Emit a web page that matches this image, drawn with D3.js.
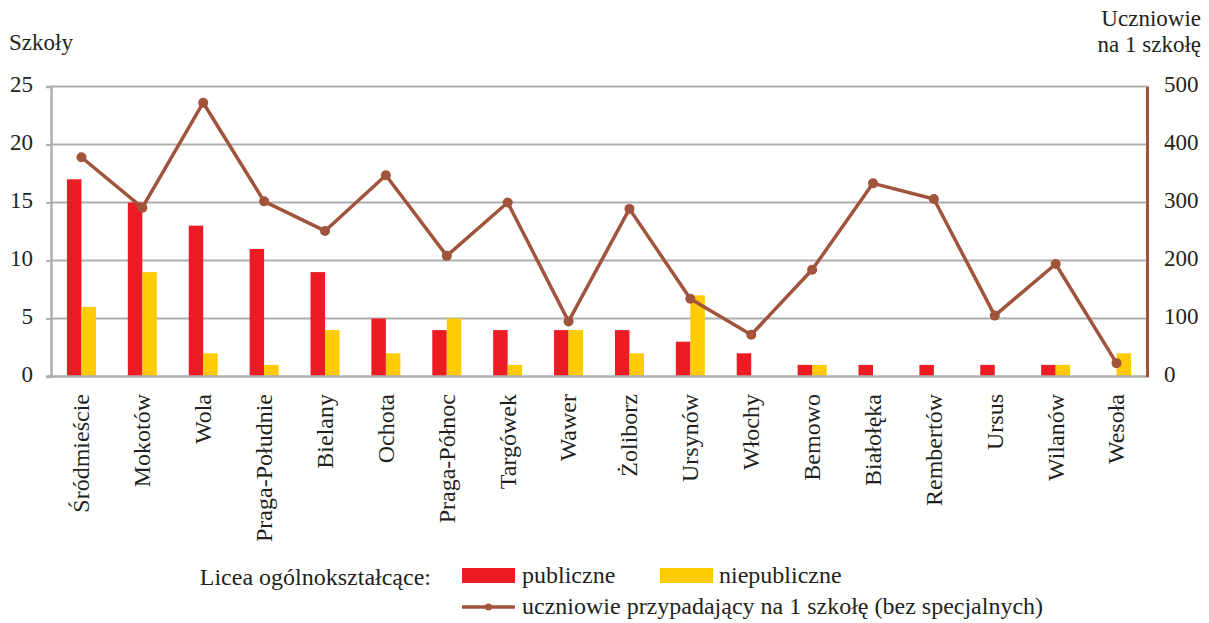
<!DOCTYPE html>
<html><head><meta charset="utf-8">
<script src="https://cdn.jsdelivr.net/npm/d3@7"></script>
<style>body{margin:0;background:#fff}svg{display:block}text{font-family:"Liberation Serif","Times New Roman",serif;fill:#231f20}</style>
</head><body><svg id="c" width="1209" height="623"></svg>
<script>
const districts = ["Śródmieście","Mokotów","Wola","Praga-Południe","Bielany","Ochota","Praga-Północ","Targówek","Wawer","Żoliborz","Ursynów","Włochy","Bemowo","Białołęka","Rembertów","Ursus","Wilanów","Wesoła"];
const publicSchools = [17,15,13,11,9,5,4,4,4,4,3,2,1,1,1,1,1,0];
const privateSchools = [6,9,2,1,4,2,5,1,4,2,7,0,1,0,0,0,1,2];
const studentsPerSchool = [378,291,472,302,251,347,208,300,95,289,134,72,184,333,306,105,194,23];
const leftTicks = [0,5,10,15,20,25];
const rightTicks = [0,100,200,300,400,500];

const svg = d3.select("#c");
const L = 51, R = 1147, T = 86.5, B = 376.5;
const FS = 23, FL = 24;
const x = d3.scaleBand().domain(districts).range([L, R]);
const yL = d3.scaleLinear().domain([0,25]).range([B, T]);
const yR = d3.scaleLinear().domain([0,500]).range([B, T]);
const bw = 14.5;
const grid = "#aeaeb0", lineCol = "#a0543c";

svg.append("g").selectAll("line").data(leftTicks.slice(1)).join("line")
  .attr("x1", L).attr("x2", R + 2).attr("y1", d => yL(d)).attr("y2", d => yL(d))
  .attr("stroke", grid).attr("stroke-width", 2);

const ga = svg.append("g").attr("transform", `translate(${L},0)`)
  .call(d3.axisLeft(yL).tickValues(leftTicks).tickSize(5).tickPadding(13));
ga.select(".domain").attr("stroke", grid).attr("stroke-width", 2.5);
ga.selectAll(".tick line").attr("stroke", grid).attr("stroke-width", 2);
ga.selectAll(".tick text").attr("font-size", FS).attr("dy", "0.2em");

const g = svg.append("g");
g.selectAll(".pub").data(districts).join("rect")
  .attr("x", d => x(d) + x.bandwidth()/2 - bw)
  .attr("y", (d,i) => yL(publicSchools[i])).attr("width", bw)
  .attr("height", (d,i) => B - yL(publicSchools[i])).attr("fill", "#ed1c24");
g.selectAll(".prv").data(districts).join("rect")
  .attr("x", d => x(d) + x.bandwidth()/2)
  .attr("y", (d,i) => yL(privateSchools[i])).attr("width", bw)
  .attr("height", (d,i) => B - yL(privateSchools[i])).attr("fill", "#ffcb05");

svg.append("line").attr("x1", L - 5).attr("x2", R + 2).attr("y1", B).attr("y2", B)
  .attr("stroke", grid).attr("stroke-width", 2.5);

const gr = svg.append("g").attr("transform", `translate(${R},0)`)
  .call(d3.axisRight(yR).tickValues(rightTicks).tickSize(0).tickPadding(17));
gr.select(".domain").attr("stroke", lineCol).attr("stroke-width", 3);
gr.selectAll(".tick text").attr("font-size", FS).attr("dy", "0.2em");

const cx = d => x(d) + x.bandwidth()/2;
svg.append("path").datum(districts)
  .attr("d", d3.line().x(cx).y((d,i) => yR(studentsPerSchool[i])))
  .attr("fill", "none").attr("stroke", lineCol).attr("stroke-width", 3.5).attr("stroke-linejoin", "round");
svg.append("g").selectAll("circle").data(districts).join("circle")
  .attr("cx", cx).attr("cy", (d,i) => yR(studentsPerSchool[i])).attr("r", 5).attr("fill", lineCol);

svg.append("g").selectAll("text").data(districts).join("text")
  .attr("transform", d => `translate(${cx(d)},394) rotate(-90)`)
  .attr("text-anchor", "end").attr("dy", "0.33em").attr("font-size", FL).text(d => d);

svg.append("text").attr("x", 9).attr("y", 50).attr("font-size", FS).text("Szkoły");
svg.append("text").attr("x", 1201).attr("y", 26).attr("text-anchor", "end").attr("font-size", FS).text("Uczniowie");
svg.append("text").attr("x", 1201).attr("y", 52).attr("text-anchor", "end").attr("font-size", FS).text("na 1 szkołę");

const lg = svg.append("g");
lg.append("text").attr("x", 431).attr("y", 585).attr("text-anchor", "end").attr("font-size", FL).text("Licea ogólnokształcące:");
lg.append("rect").attr("x", 462).attr("y", 568).attr("width", 53).attr("height", 15).attr("fill", "#ed1c24");
lg.append("text").attr("x", 522).attr("y", 583).attr("font-size", FL).text("publiczne");
lg.append("rect").attr("x", 660).attr("y", 568).attr("width", 53).attr("height", 15).attr("fill", "#ffcb05");
lg.append("text").attr("x", 719).attr("y", 583).attr("font-size", FL).text("niepubliczne");
lg.append("line").attr("x1", 462).attr("x2", 515).attr("y1", 607).attr("y2", 607).attr("stroke", lineCol).attr("stroke-width", 3.5);
lg.append("circle").attr("cx", 488.5).attr("cy", 607).attr("r", 3.5).attr("fill", lineCol);
lg.append("text").attr("x", 522).attr("y", 614).attr("font-size", FL).text("uczniowie przypadający na 1 szkołę (bez specjalnych)");
</script></body></html>
